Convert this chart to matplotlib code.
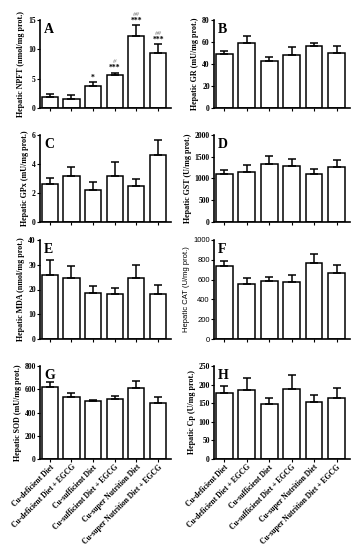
import numpy as np
import matplotlib
matplotlib.use('Agg')
from matplotlib import pyplot as plt

plt.rcParams['font.family'] = ['Liberation Serif', 'DejaVu Serif']

groups = ['Cu-deficient Diet', 'Cu-deficient Diet + EGCG', 'Cu-sufficient Diet',
          'Cu-sufficient Diet + EGCG', 'Cu-super Nutrition Diet', 'Cu-super Nutrition Diet + EGCG']

npft = [1.8, 1.6, 3.8, 5.7, 12.3, 9.4]
npft_err = [0.6, 0.6, 0.6, 0.35, 1.8, 1.5]
gr = [49, 59, 43, 48, 56, 50]
gr_err = [3, 6, 3, 7, 3, 6.5]
gpx = [2.6, 3.2, 2.2, 3.15, 2.5, 4.65]
gpx_err = [0.4, 0.6, 0.55, 1.0, 0.45, 1.0]
gst = [1100, 1140, 1340, 1290, 1105, 1270]
gst_err = [100, 160, 170, 160, 120, 160]
mda = [26, 24.5, 18.5, 18, 24.5, 18.3]
mda_err = [6, 5, 3, 2.5, 5.3, 3.5]
cat = [735, 555, 590, 580, 770, 670]
cat_err = [55, 65, 40, 70, 90, 75]
sod = [620, 530, 495, 515, 615, 485]
sod_err = [40, 40, 15, 25, 60, 50]
cp = [178, 186, 148, 188, 153, 163]
cp_err = [17, 32, 17, 38, 20, 27]

# significance marks for panel A
stars_a = ['', '', '*', '***', '***', '***']
hash_a = ['', '', '', '#', '##', '##']

panels = [
    ('A', npft, npft_err, 'Hepatic NPFT (nmol/mg prot.)', [0, 5, 10, 15]),
    ('B', gr, gr_err, 'Hepatic GR (mU/mg prot.)', [0, 20, 40, 60, 80]),
    ('C', gpx, gpx_err, 'Hepatic GPx (mU/mg prot.)', [0, 2, 4, 6]),
    ('D', gst, gst_err, 'Hepatic GST (U/mg prot.)', [0, 500, 1000, 1500, 2000]),
    ('E', mda, mda_err, 'Hepatic MDA (nmol/mg prot.)', [0, 10, 20, 30, 40]),
    ('F', cat, cat_err, 'Hepatic CAT (U/mg prot.)', [0, 200, 400, 600, 800, 1000]),
    ('G', sod, sod_err, 'Hepatic SOD (mU/mg prot.)', [0, 200, 400, 600, 800]),
    ('H', cp, cp_err, 'Hepatic Cp (U/mg prot.)', [0, 50, 100, 150, 200, 250]),
]

W, H = 353, 550
fig = plt.figure(figsize=(W / 100, H / 100), dpi=100)

# pixel boxes: (top, bottom) and (left, right)
rows = [(20, 108), (135, 222), (240, 339), (366, 459)]
cols = [(40, 171), (214, 350)]

x = np.arange(len(groups))
for i, (letter, m, e, ylab, ticks) in enumerate(panels):
    r, c = divmod(i, 2)
    top, bot = rows[r]
    left, right = cols[c]
    ax = fig.add_axes([left / W, 1 - bot / H, (right - left) / W, (bot - top) / H])
    ax.bar(x, m, width=0.75, color='white', edgecolor='black', linewidth=1.1, zorder=2)
    ax.errorbar(x, m, yerr=[np.zeros(len(m)), e], fmt='none', ecolor='black',
                elinewidth=1.1, capsize=3, capthick=1.1, zorder=3)
    ax.set_xlim(-0.45, 5.6)
    ax.set_ylim(0, ticks[-1])
    ax.set_yticks(ticks)
    ax.set_xticks(x)
    ax.spines['top'].set_visible(False)
    ax.spines['right'].set_visible(False)
    ax.spines['left'].set_linewidth(1.2)
    ax.spines['bottom'].set_linewidth(1.2)
    ax.tick_params(axis='both', length=2, width=0.8, labelsize=5.5, pad=1)
    for t in ax.get_yticklabels():
        t.set_fontweight('bold')
    if letter == 'F':
        ax.set_ylabel(ylab, fontsize=5.5, family='Liberation Sans', labelpad=2)
        for t in ax.get_yticklabels():
            t.set_family('Liberation Sans')
            t.set_fontweight('normal')
    else:
        ax.set_ylabel(ylab, fontsize=5.8, fontweight='bold', labelpad=2)
    ax.text(0.03, 0.97, letter, transform=ax.transAxes, fontsize=10, fontweight='bold',
            va='top', ha='left')
    if r == 3:
        ax.set_xticklabels(groups, rotation=45, ha='right', rotation_mode='anchor',
                           fontsize=5.5, fontweight='bold')
    else:
        ax.set_xticklabels([])
    if letter == 'A':
        for xi in x:
            ytop = m[xi] + e[xi]
            if stars_a[xi]:
                ax.annotate(stars_a[xi], (xi, ytop), xytext=(0, 0.5), textcoords='offset points',
                            ha='center', va='bottom', fontsize=5.5, fontweight='bold')
            if hash_a[xi]:
                ax.annotate(hash_a[xi], (xi, ytop), xytext=(0, 6), textcoords='offset points',
                            ha='center', va='bottom', fontsize=5, color='gray',
                            style='italic')

fig.savefig('out.png', dpi=100)
